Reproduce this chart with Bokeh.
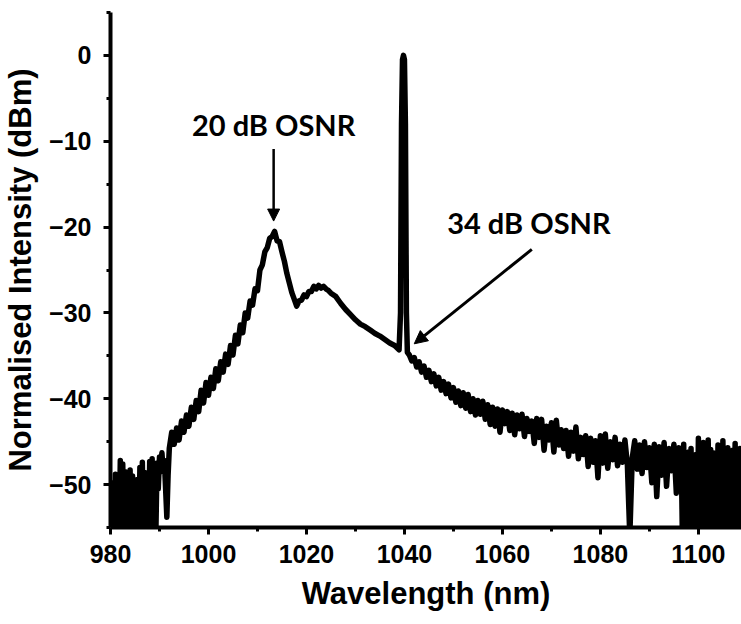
from bokeh.plotting import figure
from bokeh.models import Range1d, FixedTicker, Arrow, NormalHead
from bokeh.core.properties import value
from bokeh.embed import file_html
from bokeh.resources import INLINE

# ---- data ----
# left noise floor
wl_floor = [980.00, 980.25, 980.50, 980.75, 981.00, 981.25, 981.50, 981.75, 982.00, 982.25,
            982.50, 982.75, 983.00, 983.25, 983.50, 983.75, 984.00, 984.25, 984.50, 984.75,
            985.00, 985.25, 985.50, 985.75, 986.00, 986.25, 986.50, 986.75, 987.00, 987.25,
            987.50, 987.75, 988.00, 988.25, 988.50, 988.75, 989.00, 989.25, 989.50, 989.75,
            990.00, 990.25, 990.50, 990.75, 991.00, 991.25, 991.50, 991.75]
db_floor = [-49.5, -56.5, -50.5, -57.0, -48.8, -56.0, -50.0, -57.0, -47.2, -56.5,
            -47.6, -57.0, -48.5, -56.0, -49.6, -57.0, -48.3, -56.5, -49.0, -57.0,
            -50.2, -56.0, -49.4, -57.0, -48.0, -56.5, -47.4, -57.0, -48.6, -56.0,
            -49.8, -57.0, -47.3, -56.5, -47.0, -57.0, -48.2, -56.0, -47.5, -50.5,
            -46.8, -47.6, -46.3, -48.5, -47.2, -50.5, -53.8, -49.0]

# rising edge, 1013 nm ASE peak and hump
wl_ase = [992.0, 992.5, 993.0, 993.5, 994.0, 994.5, 995.0, 995.5, 996.0, 996.5,
          997.0, 997.5, 998.0, 998.5, 999.0, 999.5, 1000.0, 1000.5, 1001.0, 1001.5,
          1002.0, 1002.5, 1003.0, 1003.5, 1004.0, 1004.5, 1005.0, 1005.5, 1006.0, 1006.5,
          1007.0, 1007.5, 1008.0, 1008.5, 1009.0, 1009.5, 1010.0, 1010.5, 1011.0, 1011.5,
          1012.0, 1012.5, 1013.0, 1013.5, 1014.0, 1014.5, 1015.0, 1015.5, 1016.0, 1016.5,
          1017.0, 1017.5, 1018.0, 1018.5, 1019.0, 1019.5, 1020.0, 1020.5, 1021.0, 1021.5,
          1022.0, 1022.5, 1023.0, 1023.5, 1024.0, 1024.5, 1025.0, 1026.0, 1027.0, 1028.0,
          1029.0, 1030.0, 1031.0, 1032.0, 1033.0, 1034.0, 1035.0, 1036.0, 1037.0, 1038.0,
          1038.9]
db_ase = [-45.8, -43.9, -45.3, -43.4, -44.8, -42.6, -43.9, -41.9, -43.2, -41.0,
          -42.4, -40.2, -41.5, -39.0, -40.5, -38.1, -39.6, -37.5, -38.8, -36.5,
          -37.9, -35.7, -36.9, -34.8, -36.0, -33.8, -34.9, -32.6, -33.6, -31.4,
          -32.3, -30.0, -30.6, -28.6, -29.1, -27.2, -27.4, -25.0, -24.4, -22.9,
          -22.4, -21.3, -21.1, -20.5, -21.6, -21.7, -22.9, -24.0, -25.4, -26.5,
          -27.6, -28.4, -29.2, -28.6, -28.5, -27.9, -28.1, -27.5, -27.5, -26.9,
          -27.2, -26.8, -27.1, -26.9, -27.2, -27.4, -27.7, -28.1, -28.9, -29.6,
          -30.2, -30.8, -31.3, -31.6, -32.0, -32.4, -32.7, -33.1, -33.5, -33.8,
          -34.3]

# 1040 nm signal
wl_signal = [1039.2, 1039.4, 1039.6, 1039.8, 1040.0, 1040.2, 1040.4, 1040.6]
db_signal = [-30.0, -8.0, -0.5, 0.0, -0.5, -8.0, -30.0, -34.6]

# long-wavelength tail
wl_tail = [1041.0, 1041.5, 1042.0, 1042.5, 1043.0, 1043.5, 1044.0, 1044.5, 1045.0, 1045.5,
           1046.0, 1046.5, 1047.0, 1047.5, 1048.0, 1048.5, 1049.0, 1049.5, 1050.0, 1050.5,
           1051.0, 1051.5, 1052.0, 1052.5, 1053.0, 1053.5, 1054.0, 1054.5, 1055.0, 1055.5,
           1056.0, 1056.5, 1057.0, 1057.5, 1058.0, 1058.5, 1059.0, 1059.5, 1060.0, 1060.5,
           1061.0, 1061.5, 1062.0, 1062.5, 1063.0, 1063.5, 1064.0, 1064.5, 1065.0, 1065.5,
           1066.0, 1066.5, 1067.0, 1067.5, 1068.0, 1068.5, 1069.0, 1069.5, 1070.0, 1070.5,
           1071.0, 1071.5, 1072.0, 1072.5, 1073.0, 1073.5, 1074.0, 1074.5, 1075.0, 1075.5,
           1076.0, 1076.5, 1077.0, 1077.5, 1078.0, 1078.5, 1079.0, 1079.5, 1080.0, 1080.5,
           1081.0, 1081.5, 1082.0, 1082.5, 1083.0, 1083.5, 1084.0, 1084.5, 1085.0, 1085.5,
           1086.0, 1086.5, 1087.0, 1087.5, 1088.0, 1088.5, 1089.0, 1089.5, 1090.0, 1090.5,
           1091.0, 1091.5, 1092.0, 1092.5, 1093.0, 1093.5, 1094.0, 1094.5, 1095.0, 1095.5,
           1096.0, 1096.25, 1096.5, 1096.75, 1097.0, 1097.25, 1097.5, 1097.75, 1098.0, 1098.25,
           1098.5, 1098.75, 1099.0, 1099.25, 1099.5, 1099.75, 1100.0, 1100.25, 1100.5, 1100.75,
           1101.0, 1101.25, 1101.5, 1101.75, 1102.0, 1102.25, 1102.5, 1102.75, 1103.0, 1103.25,
           1103.5, 1103.75, 1104.0, 1104.25, 1104.5, 1104.75, 1105.0, 1105.25, 1105.5, 1105.75,
           1106.0, 1106.25, 1106.5, 1106.75, 1107.0, 1107.25, 1107.5, 1107.75, 1108.0, 1108.25,
           1108.5, 1108.75, 1109.0]
db_tail = [-34.9, -35.6, -35.2, -36.3, -35.7, -36.9, -36.2, -37.5, -36.7, -38.0,
           -37.1, -38.5, -37.5, -39.0, -38.0, -39.4, -38.3, -39.9, -38.7, -40.4,
           -39.1, -40.8, -39.3, -41.1, -39.5, -41.5, -40.0, -41.9, -40.2, -41.8,
           -40.3, -42.4, -40.7, -43.0, -41.0, -43.2, -41.2, -43.9, -41.3, -42.9,
           -41.5, -43.7, -41.7, -44.2, -41.9, -43.5, -41.8, -44.4, -42.3, -43.8,
           -42.6, -45.2, -42.3, -44.5, -42.4, -46.0, -43.2, -44.8, -42.8, -46.2,
           -42.5, -45.4, -43.6, -45.8, -43.7, -46.7, -43.9, -46.1, -43.3, -47.0,
           -44.5, -46.5, -44.3, -47.9, -44.6, -47.4, -44.9, -49.2, -44.3, -47.5,
           -44.1, -48.1, -45.0, -47.1, -44.5, -47.8, -45.3, -47.4, -44.8, -47.6,
           -56.0, -46.9, -44.9, -48.2, -45.4, -48.7, -45.0, -48.0, -45.7, -49.8,
           -45.3, -51.4, -45.6, -48.9, -45.1, -50.2, -45.8, -48.4, -45.3, -51.0,
           -45.7, -49.1, -46.0, -57.0, -45.3, -56.0, -47.0, -57.0, -46.2, -56.0,
           -45.8, -57.0, -47.4, -56.0, -46.5, -57.0, -44.6, -56.0, -46.0, -57.0,
           -45.1, -56.0, -47.2, -57.0, -44.8, -56.0, -45.9, -57.0, -46.3, -56.0,
           -47.5, -57.0, -45.4, -56.0, -46.8, -57.0, -44.9, -56.0, -46.6, -57.0,
           -45.7, -56.0, -47.1, -57.0, -46.0, -56.0, -45.2, -57.0, -46.4, -56.0,
           -45.8, -57.0, -46.1]

x_ticks = [980, 1000, 1020, 1040, 1060, 1080, 1100]
x_minor = [990, 1010, 1030, 1050, 1070, 1090]
y_ticks = [-50, -40, -30, -20, -10, 0]
y_tick_labels = ["\u221250", "\u221240", "\u221230", "\u221220", "\u221210", "0"]
y_minor = [-55, -45, -35, -25, -15, -5, 5]

notes = ["20 dB OSNR", "34 dB OSNR"]
note_x = [1013.3, 1065.4]
note_y = [-8.0, -19.5]
arrow_from_x = [1013.3, 1066.0]
arrow_from_y = [-10.9, -22.6]
arrow_to_x = [1013.3, 1042.0]
arrow_to_y = [-19.3, -33.6]

wl = wl_floor + wl_ase + wl_signal + wl_tail
db = db_floor + db_ase + db_signal + db_tail

p = figure(width=741, height=624, output_backend="svg", toolbar_location=None,
           x_range=Range1d(980, 1108.8), y_range=Range1d(-55, 5),
           min_border_left=110, min_border_right=0, min_border_top=12, min_border_bottom=97)
p.outline_line_color = None
p.grid.visible = False
p.background_fill_color = "white"
p.border_fill_color = "white"

p.line(wl, db, line_color="black", line_width=5.5, line_join="round")

p.text(x=note_x, y=note_y, text=notes, text_font=value("Lato"), text_font_style="bold",
       text_font_size="29px", text_align="center", text_baseline="middle", text_color="black")

p.add_layout(Arrow(end=NormalHead(size=12, fill_color="black", line_color="black", line_width=1),
                   x_start=arrow_from_x[0], y_start=arrow_from_y[0],
                   x_end=arrow_to_x[0], y_end=arrow_to_y[0], line_width=2.5, line_color="black"))
p.add_layout(Arrow(end=NormalHead(size=13, fill_color="black", line_color="black", line_width=1),
                   x_start=arrow_from_x[1], y_start=arrow_from_y[1],
                   x_end=arrow_to_x[1], y_end=arrow_to_y[1], line_width=3, line_color="black"))

for ax in (p.xaxis[0], p.yaxis[0]):
    ax.axis_line_width = 4
    ax.axis_line_color = "black"
    ax.major_tick_line_width = 3
    ax.major_tick_out = 7
    ax.major_tick_in = 0
    ax.minor_tick_line_width = 3
    ax.minor_tick_out = 4
    ax.minor_tick_in = 0
    ax.major_label_text_font = "Liberation Sans"
    ax.major_label_text_font_style = "bold"
    ax.major_label_text_font_size = "25px"
    ax.major_label_text_color = "black"
    ax.axis_label_text_font = "Liberation Sans"
    ax.axis_label_text_font_style = "bold"
    ax.axis_label_text_font_size = "31px"
    ax.axis_label_text_color = "black"

p.xaxis.ticker = FixedTicker(ticks=x_ticks, minor_ticks=x_minor)
p.yaxis.ticker = FixedTicker(ticks=y_ticks, minor_ticks=y_minor)
p.yaxis.major_label_overrides = {t: lab for t, lab in zip(y_ticks, y_tick_labels)}
p.xaxis.axis_label = "Wavelength (nm)"
p.yaxis.axis_label = "Normalised Intensity (dBm)"
p.xaxis.major_label_standoff = 10
p.yaxis.major_label_standoff = 12
p.xaxis.axis_label_standoff = 10
p.yaxis.axis_label_standoff = 8

open("out.html", "w").write(file_html(p, INLINE))
